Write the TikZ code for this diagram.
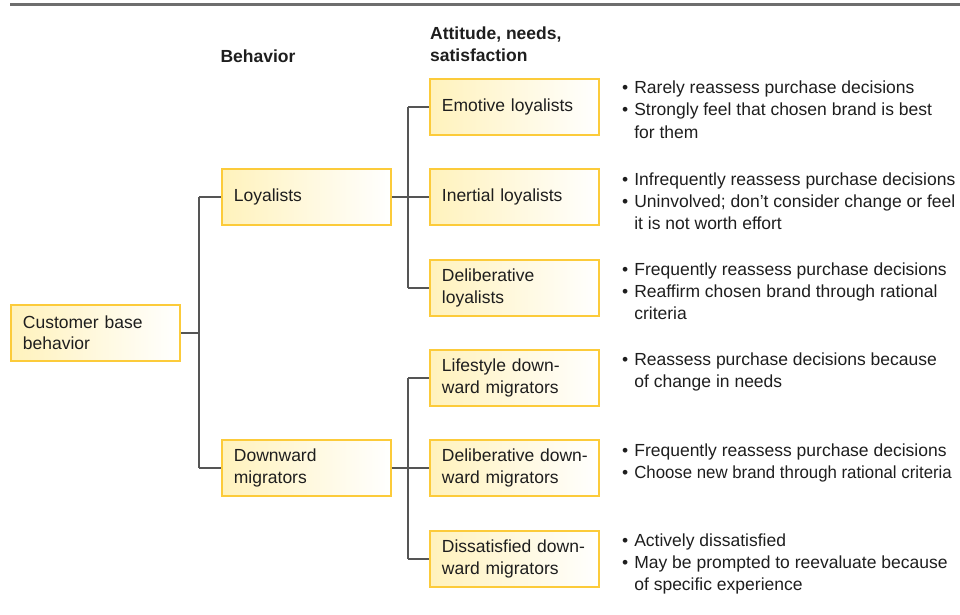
\documentclass[tikz,border=0pt]{standalone}
\usepackage{fontspec}
\usepackage{graphicx}
\setmainfont{Liberation Sans}
\usetikzlibrary{calc}
\definecolor{boxborder}{HTML}{FCCB3A}
\definecolor{boxfill}{HTML}{FFF2BC}
\definecolor{connc}{HTML}{555555}
\definecolor{txtc}{HTML}{1E1E1E}
\definecolor{rulec}{HTML}{6E6E6E}
\newcommand{\fs}{\fontsize{17.5}{21.5}\selectfont}
\newcommand{\fb}{\fontsize{17.5}{22}\selectfont}
\begin{document}
\begin{tikzpicture}[x=1pt,y=-1pt,
  every node/.style={text=txtc},
  catbox/.style={draw=boxborder, line width=1.8pt, left color=boxfill, right color=white,
    minimum height=56pt, text width=145pt, inner xsep=12pt, inner ysep=0pt,
    align=left, font=\fs, anchor=north west},
  conn/.style={draw=connc, line width=1.5pt},
  desc/.style={anchor=base west, inner sep=0pt, font=\fb, align=left},
  hdr/.style={font=\fb\bfseries, inner sep=0pt, align=left}]
\useasboundingbox (0,0) rectangle (960,615);
\clip (0,0) rectangle (960,615);
% top rule
\draw[rulec, line width=3pt] (10,5) -- (960,5);
% headers
\node[hdr, anchor=base] (hbeh) at (258,63) {Behavior};
\node[hdr, anchor=base west] (hatt) at (430,62) {Attitude, needs,\\satisfaction};
% boxes
\node[catbox] (cust) at (10,304) {Customer base\\behavior};
\node[catbox] (loy) at (221,168) {Loyalists};
\node[catbox] (down) at (221,439) {Downward\\migrators};
\node[catbox] (emo) at (429,78) {Emotive loyalists};
\node[catbox] (ine) at (429,168) {Inertial loyalists};
\node[catbox] (dlo) at (429,259) {Deliberative\\loyalists};
\node[catbox] (lif) at (429,349) {\mbox{Lifestyle down-}\\ward migrators};
\node[catbox] (ddm) at (429,439) {\mbox{Deliberative down-}\\ward migrators};
\node[catbox] (dis) at (429,530) {\mbox{Dissatisfied down-}\\ward migrators};
% connector columns
\coordinate (c1) at (199,0);
\coordinate (c2) at (408,0);
\draw[conn] (cust.east) -- (cust.east -| c1);
\draw[conn] (loy.west -| c1) -- (down.west -| c1);
\draw[conn] (loy.west -| c1) -- (loy.west);
\draw[conn] (down.west -| c1) -- (down.west);
\draw[conn] (loy.east) -- (ine.west);
\draw[conn] (emo.west -| c2) -- (dlo.west -| c2);
\draw[conn] (emo.west -| c2) -- (emo.west);
\draw[conn] (dlo.west -| c2) -- (dlo.west);
\draw[conn] (down.east) -- (ddm.west);
\draw[conn] (lif.west -| c2) -- (dis.west -| c2);
\draw[conn] (lif.west -| c2) -- (lif.west);
\draw[conn] (dis.west -| c2) -- (dis.west);
% descriptions
\node[desc] (d1) at (622,94) {\begin{tabular}[t]{@{}l@{\hspace{6pt}}l@{}}
\textbullet & Rarely reassess purchase decisions\\
\textbullet & Strongly feel that chosen brand is best\\
 & for them\end{tabular}};
\node[desc] (d2) at (622,185) {\begin{tabular}[t]{@{}l@{\hspace{6pt}}l@{}}
\textbullet & Infrequently reassess purchase decisions\\
\textbullet & Uninvolved; don’t consider change or feel\\
 & it is not worth effort\end{tabular}};
\node[desc] (d3) at (622,275) {\begin{tabular}[t]{@{}l@{\hspace{6pt}}l@{}}
\textbullet & Frequently reassess purchase decisions\\
\textbullet & Reaffirm chosen brand through rational\\
 & criteria\end{tabular}};
\node[desc] (d4) at (622,365) {\begin{tabular}[t]{@{}l@{\hspace{6pt}}l@{}}
\textbullet & Reassess purchase decisions because\\
 & of change in needs\end{tabular}};
\node[desc] (d5) at (622,456) {\begin{tabular}[t]{@{}l@{\hspace{6pt}}l@{}}
\textbullet & Frequently reassess purchase decisions\\
\textbullet & \scalebox{0.96}[1]{Choose new brand through rational criteria}\end{tabular}};
\node[desc] (d6) at (622,546) {\begin{tabular}[t]{@{}l@{\hspace{6pt}}l@{}}
\textbullet & Actively dissatisfied\\
\textbullet & May be prompted to reevaluate because\\
 & of specific experience\end{tabular}};
\end{tikzpicture}
\end{document}
